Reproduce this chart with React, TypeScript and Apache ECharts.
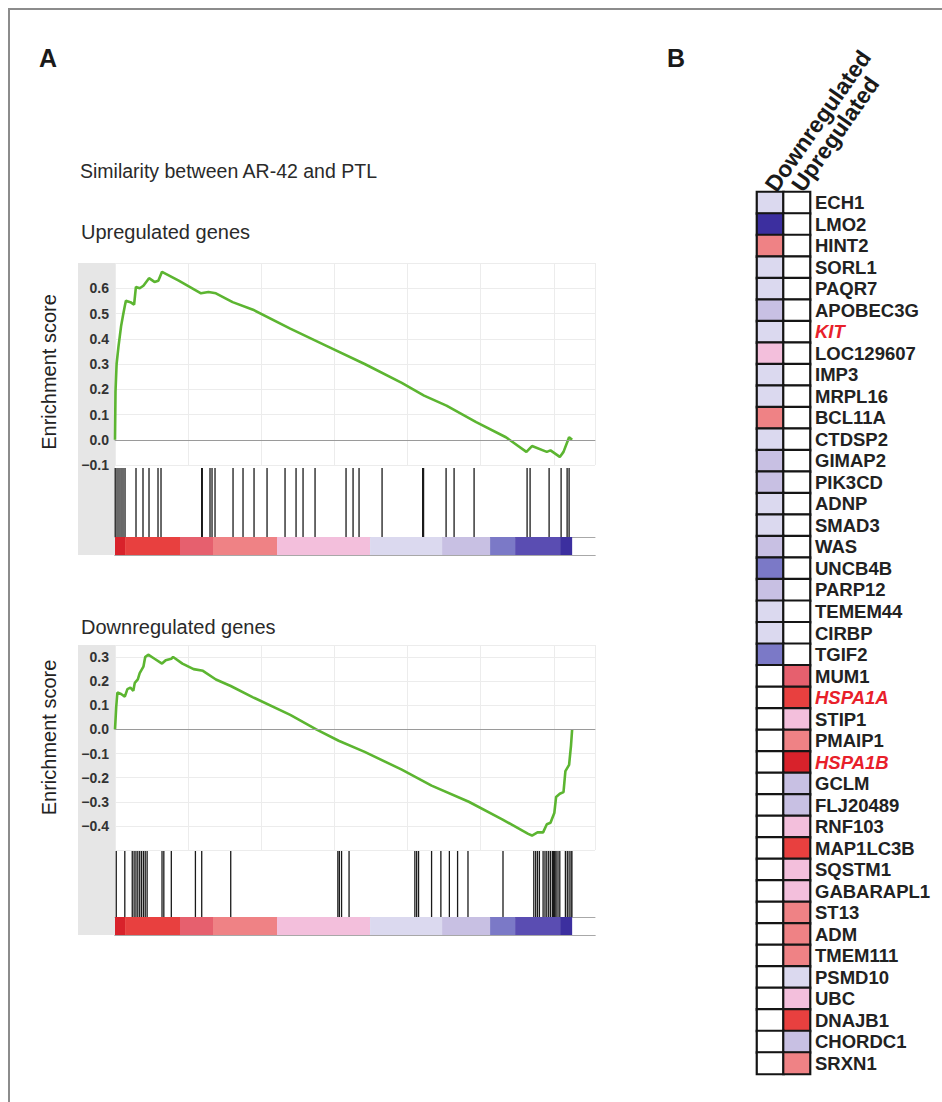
import React, { useEffect, useRef } from "react";
import * as echarts from "echarts";

// ---------- Panel A data (gene rank in ordered list, running enrichment score) ----------
const upRank = [0, 22, 70, 153, 267, 346, 429, 477, 674, 836, 915, 1081, 1243, 1488, 1729, 1895, 2057, 2788, 3763, 4087, 4415, 5146, 6039, 7667, 9295, 10923, 12546, 13522, 14502, 15802, 17102, 17999, 18244, 18892, 19053, 19460, 19622, 19867, 20000];
const upES = [0, 0.19, 0.3, 0.37, 0.45, 0.49, 0.53, 0.55, 0.545, 0.535, 0.605, 0.6, 0.61, 0.64, 0.625, 0.63, 0.665, 0.63, 0.58, 0.585, 0.58, 0.545, 0.515, 0.44, 0.37, 0.3, 0.225, 0.175, 0.135, 0.07, 0.01, -0.048, -0.025, -0.048, -0.042, -0.068, -0.048, 0.01, 0.0];
const upHits = [10, 88, 175, 263, 350, 438, 919, 1225, 1488, 1882, 2013, 3790, 3820, 4157, 4245, 4376, 5164, 5601, 6083, 6652, 7439, 7921, 8227, 8752, 10108, 10415, 10677, 11684, 13460, 13500, 14485, 14835, 15710, 18029, 18160, 18992, 19517, 19780, 19867];

const downRank = [0, 53, 105, 267, 429, 543, 674, 801, 866, 998, 1081, 1243, 1322, 1453, 1729, 2057, 2219, 2464, 2542, 2949, 3439, 3847, 4415, 5063, 6039, 7667, 8804, 9785, 10923, 12546, 13850, 15478, 16940, 18078, 18244, 18484, 18729, 18892, 19053, 19220, 19298, 19460, 19622, 19705, 19867, 19950, 20000];
const downES = [0, 0.093, 0.153, 0.147, 0.136, 0.167, 0.173, 0.16, 0.193, 0.207, 0.233, 0.26, 0.3, 0.31, 0.293, 0.273, 0.287, 0.293, 0.3, 0.273, 0.25, 0.243, 0.207, 0.18, 0.133, 0.06, 0.0, -0.047, -0.093, -0.167, -0.233, -0.3, -0.373, -0.433, -0.44, -0.427, -0.427, -0.393, -0.387, -0.347, -0.28, -0.267, -0.26, -0.173, -0.147, -0.067, 0.0];
const downHits = [55, 429, 755, 836, 917, 998, 1081, 1160, 1243, 1322, 1405, 2057, 2136, 2464, 3518, 3794, 5063, 9750, 9815, 9912, 10240, 13119, 13198, 13281, 13850, 14257, 14629, 14988, 15443, 16975, 18322, 18405, 18484, 18567, 18729, 18812, 18891, 18974, 19053, 19136, 19184, 19219, 19250, 19298, 19381, 19460, 19705, 19788, 19867, 19950, 19990];

// ranked-list colour bar segments
const barStarts = [0, 440, 2844, 4288, 7089, 11159, 14310, 16410, 17504, 19473];
const barEnds = [440, 2844, 4288, 7089, 11159, 14310, 16410, 17504, 19473, 20000];
const barLevels = [5, 4, 3, 2, 1, -1, -2, -3, -4, -5];

// ---------- Panel B data ----------
const genes = ["ECH1", "LMO2", "HINT2", "SORL1", "PAQR7", "APOBEC3G", "KIT", "LOC129607", "IMP3", "MRPL16", "BCL11A", "CTDSP2", "GIMAP2", "PIK3CD", "ADNP", "SMAD3", "WAS", "UNCB4B", "PARP12", "TEMEM44", "CIRBP", "TGIF2", "MUM1", "HSPA1A", "STIP1", "PMAIP1", "HSPA1B", "GCLM", "FLJ20489", "RNF103", "MAP1LC3B", "SQSTM1", "GABARAPL1", "ST13", "ADM", "TMEM111", "PSMD10", "UBC", "DNAJB1", "CHORDC1", "SRXN1"];
const downregulatedLevels = [-1, -5, 2, -1, -1, -2, -1, 1, -1, -1, 2, -1, -2, -2, -1, -1, -2, -3, -2, -1, -1, -3, 0, 0, 0, 0, 0, 0, 0, 0, 0, 0, 0, 0, 0, 0, 0, 0, 0, 0, 0];
const upregulatedLevels = [0, 0, 0, 0, 0, 0, 0, 0, 0, 0, 0, 0, 0, 0, 0, 0, 0, 0, 0, 0, 0, 0, 3, 4, 1, 2, 5, -2, -2, 1, 4, 1, 1, 2, 2, 2, -1, 1, 4, -2, 2];
const highlighted = ["KIT", "HSPA1A", "HSPA1B"];
const columns = ["Downregulated", "Upregulated"];

const LEVELS = [5, 4, 3, 2, 1, 0, -1, -2, -3, -4, -5];
const LEVEL_COLORS = ["#d8222b", "#e8403f", "#e6606e", "#ef8285", "#f3bfdc", "#ffffff", "#dbd9ef", "#c8c0e3", "#7b79c7", "#5a4db2", "#3c2f9f"];
const levelColor = (l: number) => LEVEL_COLORS[LEVELS.indexOf(l)];

const FONT = "'Liberation Sans', Arial, Helvetica, sans-serif";

export default function App() {
  const ref = useRef<HTMLDivElement>(null);

  useEffect(() => {
    if (!ref.current) return;
    const chart = echarts.init(ref.current, null, { renderer: "svg" });

    const X_MAX = 21000;
    const X_INT = 3200;
    const L = 115;
    const W = 480;

    const panels = [
      { rank: upRank, es: upES, hits: upHits, top: 263, esH: 202, hitsTop: 468, hitsH: 69, barTop: 537, barH: 18, yMin: -0.1, yMax: 0.7, showMin: true, namePad: [0, 16, 0, 0] },
      { rank: downRank, es: downES, hits: downHits, top: 645, esH: 205, hitsTop: 851, hitsH: 66, barTop: 917, barH: 18, yMin: -0.5, yMax: 0.35, showMin: false, namePad: [0, 0, 0, 20] },
    ];

    const grid: any[] = [];
    const xAxis: any[] = [];
    const yAxis: any[] = [];
    const series: any[] = [];
    const hidden = { axisLabel: { show: false }, axisTick: { show: false }, splitLine: { show: false } };
    const sepLine = { show: true, lineStyle: { color: "#a8a8a8", width: 1 } };

    panels.forEach((p, i) => {
      const g0 = i * 3;
      grid.push({ left: L, width: W, top: p.top, height: p.esH });
      grid.push({ left: L, width: W, top: p.hitsTop, height: p.hitsH });
      grid.push({ left: L, width: W, top: p.barTop, height: p.barH });

      xAxis.push({
        gridIndex: g0, type: "value", min: 0, max: X_MAX, interval: X_INT, position: "top",
        axisLine: sepLine, axisTick: { show: false }, axisLabel: { show: false },
        splitLine: { show: true, lineStyle: { color: "#ececec", width: 1 } },
      });
      xAxis.push({ gridIndex: g0 + 1, type: "value", min: 0, max: X_MAX, position: "top", axisLine: sepLine, ...hidden });
      xAxis.push({ gridIndex: g0 + 2, type: "value", min: 0, max: X_MAX, position: "top", axisLine: sepLine, ...hidden });
      xAxis.push({ gridIndex: g0 + 2, type: "value", min: 0, max: X_MAX, position: "bottom", axisLine: sepLine, ...hidden });

      yAxis.push({
        gridIndex: g0, type: "value", min: p.yMin, max: p.yMax, interval: 0.1,
        axisLine: { show: false }, axisTick: { show: false },
        axisLabel: {
          color: "#333", fontSize: 14, fontWeight: "bold", fontFamily: FONT, margin: 6,
          showMinLabel: p.showMin, showMaxLabel: false,
          formatter: (v: number) => (Math.abs(v) < 1e-9 ? "0.0" : v.toFixed(1).replace("-", "\u2212")),
        },
        splitLine: { show: true, lineStyle: { color: "#ececec", width: 1 } },
        name: "Enrichment score", nameLocation: "middle", nameGap: 56,
        nameTextStyle: { fontSize: 20, color: "#222", fontFamily: FONT, padding: p.namePad },
      });
      yAxis.push({ gridIndex: g0 + 1, type: "value", min: 0, max: 1, show: false });
      yAxis.push({ gridIndex: g0 + 2, type: "value", min: 0, max: 1, show: false });

      series.push({
        type: "line", xAxisIndex: i * 4, yAxisIndex: g0,
        data: p.rank.map((r, k) => [r, p.es[k]]),
        showSymbol: false, symbol: "none", silent: true,
        lineStyle: { color: "#5cb531", width: 2.6 },
        markLine: {
          silent: true, symbol: ["none", "none"], label: { show: false },
          lineStyle: { color: "#9a9a9a", width: 1, type: "solid" },
          data: [{ yAxis: 0 }],
        },
      });
      series.push({
        type: "custom", xAxisIndex: i * 4 + 1, yAxisIndex: g0 + 1, silent: true,
        data: p.hits.map((h) => [h, 1]),
        encode: { x: 0, y: 1 },
        renderItem: (params: any, api: any) => {
          const a = api.coord([api.value(0), 1]);
          const b = api.coord([api.value(0), 0]);
          return { type: "line", shape: { x1: a[0], y1: a[1], x2: b[0], y2: b[1] }, style: { stroke: "#1a1a1a", lineWidth: 1.3 } };
        },
      });
      series.push({
        type: "custom", xAxisIndex: i * 4 + 2, yAxisIndex: g0 + 2, silent: true,
        data: barStarts.map((s, k) => [s, barEnds[k], barLevels[k]]),
        encode: { x: [0, 1] },
        renderItem: (params: any, api: any) => {
          const a = api.coord([api.value(0), 1]);
          const b = api.coord([api.value(1), 0]);
          return {
            type: "rect",
            shape: { x: a[0], y: a[1], width: b[0] - a[0], height: b[1] - a[1] },
            style: { fill: levelColor(api.value(2)) },
          };
        },
      });
    });

    // Panel B heatmap
    grid.push({ left: 757, width: 53, top: 192, height: 882 });
    xAxis.push({
      gridIndex: 6, type: "category", data: columns, position: "top",
      axisLine: { show: false }, axisTick: { show: false }, splitLine: { show: false },
      axisLabel: { interval: 0, rotate: -55, margin: 3, fontSize: 23, fontWeight: "bold", color: "#1a1a1a", fontFamily: FONT },
    });
    yAxis.push({
      gridIndex: 6, type: "category", data: genes, inverse: true, position: "right",
      axisLine: { show: false }, axisTick: { show: false }, splitLine: { show: false },
      axisLabel: {
        interval: 0, margin: 5,
        formatter: (v: string) => (highlighted.includes(v) ? `{hi|${v}}` : `{n|${v}}`),
        rich: {
          n: { fontSize: 18.5, fontWeight: "bold", color: "#222", fontFamily: FONT },
          hi: { fontSize: 18.5, fontWeight: "bold", fontStyle: "italic", color: "#e8202a", fontFamily: FONT },
        },
      },
    });
    const heatData: number[][] = [];
    genes.forEach((g, r) => {
      heatData.push([0, r, downregulatedLevels[r]]);
      heatData.push([1, r, upregulatedLevels[r]]);
    });
    const heatIdx = series.length;
    series.push({
      type: "heatmap", xAxisIndex: 8, yAxisIndex: 6, data: heatData, silent: true,
      itemStyle: { borderColor: "#151515", borderWidth: 2.2 },
      emphasis: { disabled: true },
    });

    chart.setOption({
      animation: false,
      backgroundColor: "#ffffff",
      title: [
        { text: "A", left: 39, top: 45, padding: 0, textStyle: { fontSize: 25, fontWeight: "bold", color: "#1a1a1a", fontFamily: FONT } },
        { text: "B", left: 667, top: 45, padding: 0, textStyle: { fontSize: 25, fontWeight: "bold", color: "#1a1a1a", fontFamily: FONT } },
        { text: "Similarity between AR-42 and PTL", left: 80, top: 161, padding: 0, textStyle: { fontSize: 19.5, fontWeight: "normal", color: "#2a2a2a", fontFamily: FONT } },
        { text: "Upregulated genes", left: 81, top: 222, padding: 0, textStyle: { fontSize: 20, fontWeight: "normal", color: "#2a2a2a", fontFamily: FONT } },
        { text: "Downregulated genes", left: 81, top: 617, padding: 0, textStyle: { fontSize: 20, fontWeight: "normal", color: "#2a2a2a", fontFamily: FONT } },
      ],
      graphic: [
        { type: "rect", z: -10, shape: { x: 78, y: 263, width: 37, height: 292 }, style: { fill: "#e6e6e6" }, silent: true },
        { type: "rect", z: -10, shape: { x: 78, y: 645, width: 37, height: 290 }, style: { fill: "#e6e6e6" }, silent: true },
        { type: "rect", shape: { x: 9, y: 9, width: 980, height: 1140 }, style: { fill: "none", stroke: "#8c8c8c", lineWidth: 2 }, silent: true },
      ],
      visualMap: [{
        type: "piecewise", show: false, seriesIndex: heatIdx, dimension: 2,
        pieces: LEVELS.map((l, k) => ({ value: l, color: LEVEL_COLORS[k] })),
      }],
      grid, xAxis, yAxis, series,
    });

    return () => chart.dispose();
  }, []);

  return <div ref={ref} style={{ position: "absolute", left: 0, top: 0, width: 942, height: 1102 }} />;
}
